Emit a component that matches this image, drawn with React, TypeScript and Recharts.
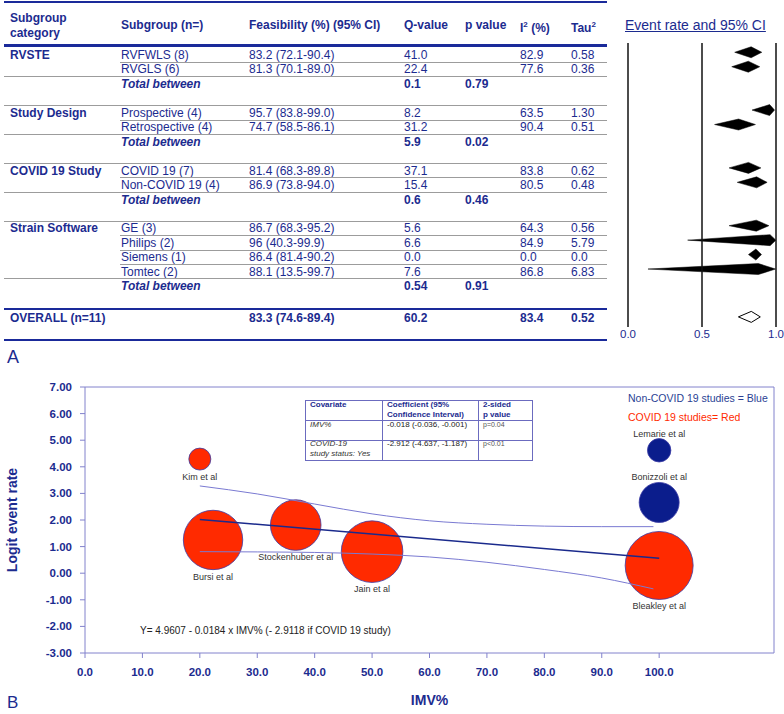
import React from 'react'
import {
  ComposedChart, Scatter, Line, XAxis, YAxis, ZAxis, ReferenceLine, Label,
  BarChart, Bar,
} from 'recharts'

const NAVY = '#1c2b8f'
const RED = '#ff2a00'
const BLUE = '#0b1d8c'
const AXIS = '#8282cc'
const FONT = "'Liberation Sans', Arial, sans-serif"

// ---- panel A: subgroup table ----
const categories = ['RVSTE', 'Study Design', 'COVID 19 Study', 'Strain Software']
const subgroupNames = [
  'RVFWLS (8)', 'RVGLS (6)', 'Prospective (4)', 'Retrospective (4)', 'COVID 19 (7)',
  'Non-COVID 19 (4)', 'GE (3)', 'Philips (2)', 'Siemens (1)', 'Tomtec (2)',
]
const subgroupCategory = [0, 0, 1, 1, 2, 2, 3, 3, 3, 3]
const feasibility = [83.2, 81.3, 95.7, 74.7, 81.4, 86.9, 86.7, 96, 86.4, 88.1]
const ciLow = [72.1, 70.1, 83.8, 58.5, 68.3, 73.8, 68.3, 40.3, 81.4, 13.5]
const ciHigh = [90.4, 89.0, 99.0, 86.1, 89.8, 94.0, 95.2, 99.9, 90.2, 99.7]
const qValues = ['41.0', '22.4', '8.2', '31.2', '37.1', '15.4', '5.6', '6.6', '0.0', '7.6']
const i2Values = ['82.9', '77.6', '63.5', '90.4', '83.8', '80.5', '64.3', '84.9', '0.0', '86.8']
const tau2Values = ['0.58', '0.36', '1.30', '0.51', '0.62', '0.48', '0.56', '5.79', '0.0', '6.83']
const betweenQ = ['0.1', '5.9', '0.6', '0.54']
const betweenP = ['0.79', '0.02', '0.46', '0.91']
const overallEst = 83.3
const overallLow = 74.6
const overallHigh = 89.4
const overallQ = '60.2'
const overallI2 = '83.4'
const overallTau2 = '0.52'
const forestTicks = [0, 0.5, 1]

// ---- panel B: meta-regression ----
const studyNames = ['Kim et al', 'Bursi et al', 'Stockenhuber et al', 'Jain et al', 'Bleakley et al', 'Lemarie et al', 'Bonizzoli et al']
const studyImv = [20, 22.3, 36.7, 50, 100, 100, 100]
const studyLogit = [4.29, 1.25, 1.81, 0.81, 0.29, 4.62, 2.66]
const studyWeight = [121, 882, 640, 949, 1156, 137, 400]
const studyCovid = [true, true, true, true, true, false, false]
const fitX = [20, 100]
const fitY = [2.02, 0.56]
const ciX = [20, 30, 40, 50, 60, 70, 80, 90, 99]
const ciUpper = [3.28, 2.98, 2.6, 2.23, 1.97, 1.84, 1.77, 1.75, 1.75]
const ciLower = [0.81, 0.8, 0.78, 0.72, 0.61, 0.41, 0.14, -0.18, -0.59]
const xTicks = [0, 10, 20, 30, 40, 50, 60, 70, 80, 90, 100]
const yTicks = [-3, -2, -1, 0, 1, 2, 3, 4, 5, 6, 7]

const ROW0 = 55
const ROWH = 14.45
const rowY = (i: number) => ROW0 + ROWH * i

type TRow = { kind: 'sub' | 'total'; i: number; c: number; k: number; first: boolean; last: boolean }
const tableRows: TRow[] = []
let rowCounter = 0
categories.forEach((_, c) => {
  const members = subgroupNames.map((_, k) => k).filter((k) => subgroupCategory[k] === c)
  members.forEach((k, j) => {
    tableRows.push({ kind: 'sub', i: rowCounter, c, k, first: j === 0, last: j === members.length - 1 })
    rowCounter++
  })
  tableRows.push({ kind: 'total', i: rowCounter, c, k: -1, first: false, last: false })
  rowCounter += 2
})
const overallRow = rowCounter

const forestData = [
  ...tableRows.filter((r) => r.kind === 'sub').map((r) => ({
    row: r.i, est: feasibility[r.k] / 100, lo: ciLow[r.k] / 100, hi: ciHigh[r.k] / 100, open: false,
  })),
  { row: overallRow, est: overallEst / 100, lo: overallLow / 100, hi: overallHigh / 100, open: true },
]

const studies = studyNames.map((name, i) => ({
  name, x: studyImv[i], y: studyLogit[i], w: studyWeight[i], covid: studyCovid[i],
}))
const fitData = fitX.map((x, i) => ({ x, y: fitY[i] }))
const upperData = ciX.map((x, i) => ({ x, y: ciUpper[i] }))
const lowerData = ciX.map((x, i) => ({ x, y: ciLower[i] }))

function T({ x, y, children, bold, italic, size = 12, color = NAVY, lh = 16, style }: any) {
  return (
    <div style={{
      position: 'absolute', left: x, top: y - lh / 2, lineHeight: lh + 'px', fontSize: size,
      fontWeight: bold ? 700 : 400, fontStyle: italic ? 'italic' : 'normal', color, whiteSpace: 'nowrap', ...style,
    }}>{children}</div>
  )
}

function HLine({ y, x1 = 4, x2 = 607, w = 1, color = '#9c9c9c' }: any) {
  return <div style={{ position: 'absolute', left: x1, top: y - w / 2, width: x2 - x1, height: w, background: color }} />
}

function Diamond(props: any) {
  const { x, y, width, height, payload } = props
  if (width == null || !payload) return null
  const cy = y + height / 2 + (payload.open ? 4.5 : 0)
  const ex = x + (width * (payload.est - payload.lo)) / (payload.hi - payload.lo)
  const h = height / 2
  const pts = `${x},${cy} ${ex},${cy - h} ${x + width},${cy} ${ex},${cy + h}`
  return <polygon points={pts} fill={payload.open ? '#fff' : '#000'} stroke="#000" strokeWidth={payload.open ? 1 : 0.5} />
}

function Bubble(props: any) {
  const { cx, cy, payload } = props
  const r = props.size ? Math.sqrt(props.size / Math.PI) : (props.width || 10) / 2
  const ly = payload.covid ? cy + r + 10 : cy - r - 2
  return (
    <g>
      <circle cx={cx} cy={cy} r={r} fill={payload.covid ? RED : BLUE} stroke="#3b3ba6" strokeWidth={0.8} />
      <text x={cx} y={ly} textAnchor="middle" fontSize={9} fill="#333" fontFamily={FONT}>{payload.name}</text>
    </g>
  )
}

function TablePanel() {
  const bold = { bold: true }
  return (
    <>
      <HLine y={2} w={2.5} color="#1a2a9a" />
      <T x={10} y={25} bold lh={14.6} style={{ top: 11, whiteSpace: 'normal' }}>Subgroup<br />category</T>
      <T x={121} y={25} {...bold}>Subgroup (n=)</T>
      <T x={249} y={25} {...bold}>Feasibility (%) (95% CI)</T>
      <T x={404} y={25} {...bold}>Q-value</T>
      <T x={465} y={25} {...bold}>p value</T>
      <T x={520} y={25} {...bold}>I<sup style={{ fontSize: 8 }}>2</sup> (%)</T>
      <T x={571} y={25} {...bold}>Tau<sup style={{ fontSize: 8 }}>2</sup></T>
      <HLine y={45.7} w={2.5} color="#1a2a9a" />
      {tableRows.map((r) => {
        const y = rowY(r.i)
        if (r.kind === 'total') {
          return (
            <React.Fragment key={'t' + r.i}>
              <T x={121} y={y} bold italic>Total between</T>
              <T x={404} y={y} bold>{betweenQ[r.c]}</T>
              <T x={465} y={y} bold>{betweenP[r.c]}</T>
            </React.Fragment>
          )
        }
        return (
          <React.Fragment key={'s' + r.i}>
            {r.first && <T x={10} y={y} bold>{categories[r.c]}</T>}
            {r.first && r.c > 0 && <HLine y={y - 7.2} />}
            <T x={121} y={y}>{subgroupNames[r.k]}</T>
            <T x={249} y={y}>{`${feasibility[r.k]} (${ciLow[r.k].toFixed(1)}-${ciHigh[r.k].toFixed(1)})`}</T>
            <T x={404} y={y}>{qValues[r.k]}</T>
            <T x={520} y={y}>{i2Values[r.k]}</T>
            <T x={571} y={y}>{tau2Values[r.k]}</T>
            <HLine y={y + 7.2} x1={r.last ? 4 : 120} />
          </React.Fragment>
        )
      })}
      <HLine y={309} w={2.5} color="#1a2a9a" />
      <T x={10} y={318.3} bold>OVERALL (n=11)</T>
      <T x={249} y={318.3} bold>{`${overallEst} (${overallLow.toFixed(1)}-${overallHigh.toFixed(1)})`}</T>
      <T x={404} y={318.3} bold>{overallQ}</T>
      <T x={520} y={318.3} bold>{overallI2}</T>
      <T x={571} y={318.3} bold>{overallTau2}</T>
      <HLine y={340} w={2.5} color="#1a2a9a" />
      <T x={625} y={25} size={14} style={{ textDecoration: 'underline' }}>Event rate and 95% CI</T>
      <T x={7} y={357} size={18}>A</T>
    </>
  )
}

function ForestPlot() {
  return (
    <div style={{ position: 'absolute', left: 620, top: 0 }}>
      <BarChart width={164} height={360} data={forestData} layout="vertical"
        margin={{ top: 43, right: 8, bottom: 13, left: 8 }}>
        <XAxis type="number" domain={[0, 1]} ticks={forestTicks} interval={0}
          tickFormatter={(v) => Number(v).toFixed(1)} axisLine={false} tickLine={false} tickSize={2} tickMargin={1}
          height={20} tick={{ fill: NAVY, fontSize: 11.5, fontFamily: FONT }} />
        <YAxis type="number" dataKey="row" domain={[-0.623, 19.03]} hide allowDataOverflow />
        {forestTicks.map((t) => (
          <ReferenceLine key={t} x={t} stroke="#111" strokeWidth={1.5} />
        ))}
        <Bar dataKey={(d: any) => [d.lo, d.hi]} barSize={11} shape={Diamond} isAnimationActive={false} />
      </BarChart>
    </div>
  )
}

function RegressionPanel() {
  const cell: React.CSSProperties = { position: 'absolute', fontSize: 8, lineHeight: '10px', whiteSpace: 'nowrap' }
  return (
    <>
      <div style={{ position: 'absolute', left: 0, top: 370 }}>
        <ComposedChart width={784} height={344} margin={{ top: 17, right: 10, bottom: 6, left: 5 }}>
          <XAxis type="number" dataKey="x" domain={[0, 120]} ticks={xTicks} interval={0}
            tickFormatter={(v) => Number(v).toFixed(1)} stroke={AXIS} tickSize={5} tickMargin={10} height={55}
            tick={{ fill: NAVY, fontSize: 11.5, fontWeight: 700, fontFamily: FONT }}>
            <Label value="IMV%" position="insideBottom" offset={3}
              style={{ fill: NAVY, fontSize: 14, fontWeight: 700, fontFamily: FONT }} />
          </XAxis>
          <YAxis type="number" dataKey="y" domain={[-3, 7]} ticks={yTicks} interval={0} width={80}
            tickFormatter={(v) => Number(v).toFixed(2)} stroke={AXIS} tickSize={5} tickMargin={8}
            tick={{ fill: NAVY, fontSize: 11.5, fontWeight: 700, fontFamily: FONT }} />
          <ZAxis type="number" dataKey="w" domain={[0, 1200]} range={[0, 1200 * Math.PI]} />
          <ReferenceLine y={7} stroke={AXIS} />
          <ReferenceLine x={120} stroke={AXIS} />
          <Scatter data={studies} shape={Bubble} isAnimationActive={false} />
          <Line data={upperData} dataKey="y" type="monotone" stroke="#7a7ad2" strokeWidth={1}
            dot={false} activeDot={false} isAnimationActive={false} zIndex={700} />
          <Line data={lowerData} dataKey="y" type="monotone" stroke="#7a7ad2" strokeWidth={1}
            dot={false} activeDot={false} isAnimationActive={false} zIndex={700} />
          <Line data={fitData} dataKey="y" type="linear" stroke="#1a2a8c" strokeWidth={1.6}
            dot={false} activeDot={false} isAnimationActive={false} zIndex={700} />
        </ComposedChart>
      </div>
      <T x={12} y={520} size={14} bold style={{ transform: 'translate(-50%, 0) rotate(-90deg)' }}>Logit event rate</T>

      {/* coefficient table */}
      <div style={{ position: 'absolute', left: 305, top: 400, width: 226, height: 59, border: '1px solid #6b6bbf' }} />
      <div style={{ position: 'absolute', left: 382, top: 400, width: 1, height: 61, background: '#6b6bbf' }} />
      <div style={{ position: 'absolute', left: 478, top: 400, width: 1, height: 61, background: '#6b6bbf' }} />
      <div style={{ position: 'absolute', left: 305, top: 420, width: 228, height: 1, background: '#6b6bbf' }} />
      <div style={{ position: 'absolute', left: 305, top: 440, width: 228, height: 1, background: '#6b6bbf' }} />
      <div style={{ ...cell, left: 310, top: 400, fontWeight: 700, color: NAVY }}>Covariate</div>
      <div style={{ ...cell, left: 387, top: 400, fontWeight: 700, color: NAVY }}>Coefficient (95%<br />Confidence Interval)</div>
      <div style={{ ...cell, left: 483, top: 400, fontWeight: 700, color: NAVY }}>2-sided<br />p value</div>
      <div style={{ ...cell, left: 310, top: 420, fontStyle: 'italic', color: '#333' }}>IMV%</div>
      <div style={{ ...cell, left: 387, top: 420, color: '#222' }}>-0.018 (-0.036, -0.001)</div>
      <div style={{ ...cell, left: 483, top: 420, fontSize: 7, color: '#555' }}>p=0.04</div>
      <div style={{ ...cell, left: 310, top: 439, fontStyle: 'italic', color: '#333' }}>COVID-19<br />study status: Yes</div>
      <div style={{ ...cell, left: 387, top: 439, color: '#222' }}>-2.912 (-4.637, -1.187)</div>
      <div style={{ ...cell, left: 483, top: 439, fontSize: 7, color: '#555' }}>p&lt;0.01</div>

      <T x={628} y={398} size={10.5} color="#2a3f94">Non-COVID 19 studies = Blue</T>
      <T x={628} y={417} size={10.5} color={RED}>COVID 19 studies= Red</T>
      <T x={140} y={631} size={10} color="#222">Y= 4.9607 - 0.0184 x IMV% (- 2.9118 if COVID 19 study)</T>
      <T x={7} y={703} size={17}>B</T>
    </>
  )
}

export default function App() {
  return (
    <div style={{ position: 'absolute', left: 0, top: 0, width: 784, height: 714, background: '#fff', fontFamily: FONT, overflow: 'hidden' }}>
      <TablePanel />
      <ForestPlot />
      <RegressionPanel />
    </div>
  )
}
